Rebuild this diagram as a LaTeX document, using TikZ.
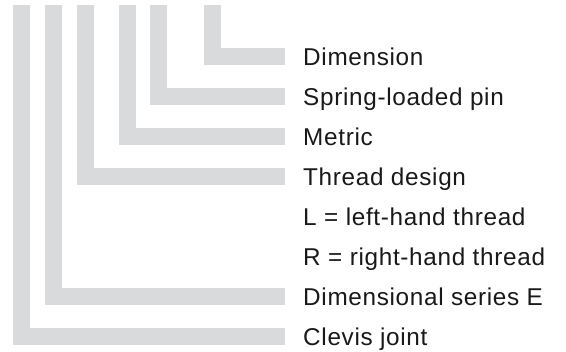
\documentclass[tikz,border=0pt]{standalone}
\usepackage{fontspec}
\setmainfont{Liberation Sans}[LetterSpace=2.8]
\usepackage{tikz}
\usetikzlibrary{positioning}
\definecolor{bargray}{RGB}{217,218,220}
\definecolor{textgray}{RGB}{25,25,25}
\tikzset{bar/.style={draw=bargray,line width=17pt,line cap=butt,line join=miter},lbl/.style={anchor=west,inner xsep=18pt,inner ysep=0pt,text height=17.4pt,text depth=0pt,text=textgray,font=\fontsize{24.3}{28}\selectfont}}

\begin{document}
\begin{tikzpicture}[x=1pt,y=-1pt]
\useasboundingbox (0,0) rectangle (566,352);
\foreach \n/\t [count=\i from 0] in {dim/Dimension, pin/Spring-loaded pin, metric/Metric, thread/Thread design, lh/L = left-hand thread, rh/R = right-hand thread, series/Dimensional series E, clevis/Clevis joint} {
\node (\n) at (285,56.5+40*\i) [lbl] {\t};
}
\foreach \n/\x in {clevis/21.5, series/53.5, thread/85.5, metric/127.5, pin/158.5, dim/212.5} {
\coordinate (top-\n) at (\x,5);
\draw[bar] (top-\n) |- (\n.west);
}
\end{tikzpicture}
\end{document}
